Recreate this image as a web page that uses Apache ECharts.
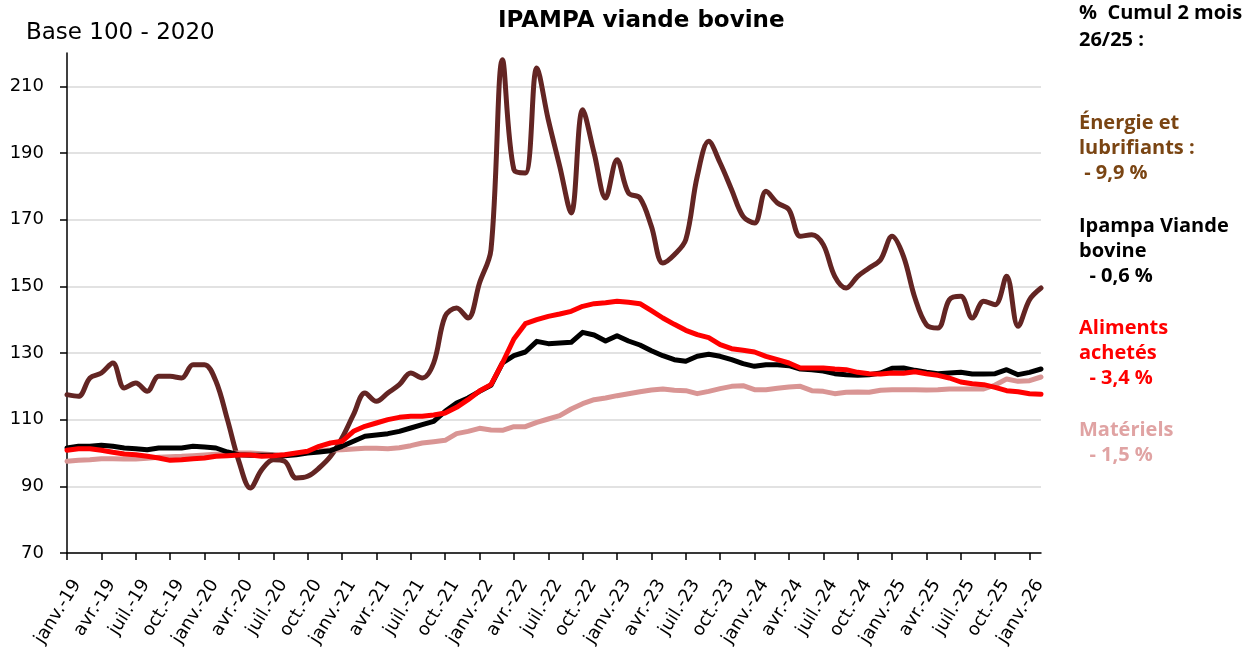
<!DOCTYPE html>
<html lang="fr">
<head>
    <meta charset="UTF-8">
    <title>IPAMPA viande bovine</title>
    <script src="https://cdn.jsdelivr.net/npm/echarts@6/dist/echarts.min.js"></script>
    <style>
        html, body { margin: 0; padding: 0; background: #fff; }
        #chart { width: 1260px; height: 653px; }
    </style>
</head>
<body>
<div id="chart"></div>
<script>
    // mois janv.-19 -> févr.-26
    const monthNames = ['janv.', 'févr.', 'mars', 'avr.', 'mai', 'juin', 'juil.', 'août', 'sept.', 'oct.', 'nov.', 'déc.'];
    const years = ['19', '20', '21', '22', '23', '24', '25', '26'];
    const nbMonths = 86;

    const yTicks = [70, 90, 110, 130, 150, 170, 190, 210];

    const energie = [
        117.5, 117, 122.5, 124, 127, 119.5, 121, 118.5, 123, 123, 122.5, 126.5,
        126.5, 121.5, 110, 97.5, 89.5, 95, 98, 97.5, 92.5, 93, 95.5, 99,
        104.5, 111.5, 118, 115.5, 118, 120.5, 124, 122.5, 127, 141, 143.5, 140.5,
        151, 161, 218, 185, 184, 215.5, 200, 186, 172, 203, 190, 176.5,
        188, 178, 176.5, 168, 157, 159.5, 164, 183, 193.5, 187, 179, 171,
        169, 178.5, 175, 173, 165, 165.5, 162.5, 153, 149.5, 153, 155.5, 158,
        165, 159, 146.5, 138.5, 137.5, 146, 147, 140.5, 145.5, 144.5, 153, 138,
        146, 149.5
    ];
    const ipampa = [
        101.5, 102, 102, 102.3, 102, 101.5, 101.3, 101, 101.5, 101.5, 101.5, 102,
        101.8, 101.5, 100.3, 99.5, 99.3, 99.3, 99.3, 99.2, 99.5, 100, 100.3, 100.7,
        102, 103.5, 105, 105.4, 105.8, 106.5, 107.5, 108.5, 109.5, 112.5, 115, 116.5,
        118.5, 120.3, 127, 129.2, 130.3, 133.5, 132.8, 133, 133.2, 136.2, 135.4, 133.6,
        135.2, 133.6, 132.4, 130.7, 129.2, 128, 127.5, 129, 129.6, 129, 128, 126.8,
        126, 126.5, 126.5, 126.2, 125.2, 125, 124.6, 123.8, 123.5, 123.3, 123.5, 124,
        125.4, 125.5, 124.8, 124.2, 123.8, 124, 124.2, 123.7, 123.7, 123.8, 125, 123.5,
        124.2, 125.2
    ];
    const aliments = [
        100.8, 101.3, 101.3, 100.8, 100.2, 99.7, 99.5, 99, 98.5, 97.8, 98, 98.3,
        98.5, 99, 99.2, 99.4, 99.4, 99, 99.2, 99.5, 100, 100.5, 102, 103,
        103.5, 106.5, 108, 109, 110, 110.7, 111, 111, 111.4, 112, 113.7, 116,
        118.6, 120.5, 127, 134.2, 138.8, 140, 141, 141.7, 142.5, 144, 144.8, 145.1,
        145.5, 145.2, 144.8, 142.7, 140.5, 138.6, 136.8, 135.5, 134.6, 132.5, 131.3, 130.8,
        130.3, 129, 128, 127, 125.5, 125.5, 125.5, 125.2, 125, 124.2, 123.8, 123.7,
        124, 123.9, 124.4, 123.8, 123.3, 122.5, 121.3, 120.8, 120.5, 119.7, 118.7, 118.4,
        117.8, 117.6
    ];
    const materiels = [
        97.5, 97.8, 98, 98.3, 98.3, 98.2, 98.2, 98.4, 98.7, 98.9, 99, 99.2,
        99.4, 99.6, 99.8, 100, 100, 99.8, 99.5, 99.4, 99.7, 100.3, 100.7, 100.9,
        101, 101.2, 101.4, 101.4, 101.3, 101.6, 102.2, 103, 103.4, 103.8, 105.8, 106.5,
        107.4, 106.9, 106.8, 107.9, 107.9, 109.2, 110.2, 111.2, 113.2, 114.8, 116, 116.5,
        117.2, 117.8, 118.4, 118.9, 119.2, 118.8, 118.7, 117.8, 118.5, 119.3, 120, 120.2,
        119, 119, 119.4, 119.8, 120, 118.7, 118.5, 117.8, 118.2, 118.3, 118.2, 118.8,
        119, 119, 119, 118.9, 119, 119.2, 119.2, 119.2, 119.2, 120.4, 122.2, 121.5,
        121.7, 122.8
    ];

    const categories = [];
    for (let i = 0; i < nbMonths; i++) {
        categories.push(monthNames[i % 12] + '-' + years[Math.floor(i / 12)]);
    }

    const chart = echarts.init(document.getElementById('chart'));

    const txt = function (text, x, y, color, lh) {
        return {
            type: 'text',
            left: x,
            top: y,
            style: {
                text: text,
                fill: color,
                font: 'bold 20px "Open Sans"',
                lineHeight: lh || 25
            }
        };
    };

    const serie = function (name, data, color, smooth) {
        return {
            name: name,
            type: 'line',
            data: data,
            symbol: 'none',
            smooth: smooth,
            lineStyle: {color: color, width: 5, cap: 'round', join: 'round'},
            itemStyle: {color: color},
            animation: false
        };
    };

    chart.setOption({
        animation: false,
        textStyle: {fontFamily: 'DejaVu Sans'},
        title: [
            {
                text: 'IPAMPA viande bovine',
                left: 493,
                top: 5,
                textStyle: {fontFamily: 'DejaVu Sans', fontWeight: 'bold', fontSize: 23, color: '#000'}
            },
            {
                text: 'Base 100 - 2020',
                left: 21,
                top: 17,
                textStyle: {fontFamily: 'DejaVu Sans', fontWeight: 'normal', fontSize: 23, color: '#000'}
            }
        ],
        grid: {left: 67, right: 219, top: 53, bottom: 100, containLabel: false},
        xAxis: {
            type: 'category',
            data: categories,
            boundaryGap: false,
            axisLine: {lineStyle: {color: '#000', width: 1.5}},
            axisTick: {interval: 2, length: 7, lineStyle: {color: '#000', width: 1.5}},
            axisLabel: {
                interval: 2,
                rotate: 58,
                margin: 22,
                verticalAlign: 'top',
                lineHeight: 24,
                fontSize: 18,
                fontFamily: 'DejaVu Sans',
                color: '#000'
            },
            splitLine: {show: false}
        },
        yAxis: {
            type: 'value',
            min: 70,
            max: 220,
            interval: 20,
            axisLine: {show: true, lineStyle: {color: '#000', width: 1.5}},
            axisTick: {show: true, length: 7, customValues: yTicks, lineStyle: {color: '#000', width: 1.5}},
            axisLabel: {
                customValues: yTicks,
                margin: 23,
                fontSize: 18,
                fontFamily: 'DejaVu Sans',
                color: '#000'
            },
            splitLine: {show: true, lineStyle: {color: '#D9D9D9', width: 1.5}}
        },
        series: [
            serie('Énergie et lubrifiants', energie, '#632523', 0.35),
            serie('Matériels', materiels, '#D99594', false),
            serie('Ipampa Viande bovine', ipampa, '#000000', false),
            serie('Aliments achetés', aliments, '#FF0000', false)
        ],
        graphic: [
            txt('%  Cumul 2 mois\n26/25 :', 1079, 0, '#000', 27),
            txt('Énergie et\nlubrifiants :\n - 9,9 %', 1079, 111, '#7A4513'),
            txt('Ipampa Viande\nbovine\n  - 0,6 %', 1079, 214, '#000'),
            txt('Aliments\nachetés\n  - 3,4 %', 1079, 316, '#FF0000'),
            txt('Matériels\n  - 1,5 %', 1079, 418, '#E0A3A3')
        ]
    });
</script>
</body>
</html>
